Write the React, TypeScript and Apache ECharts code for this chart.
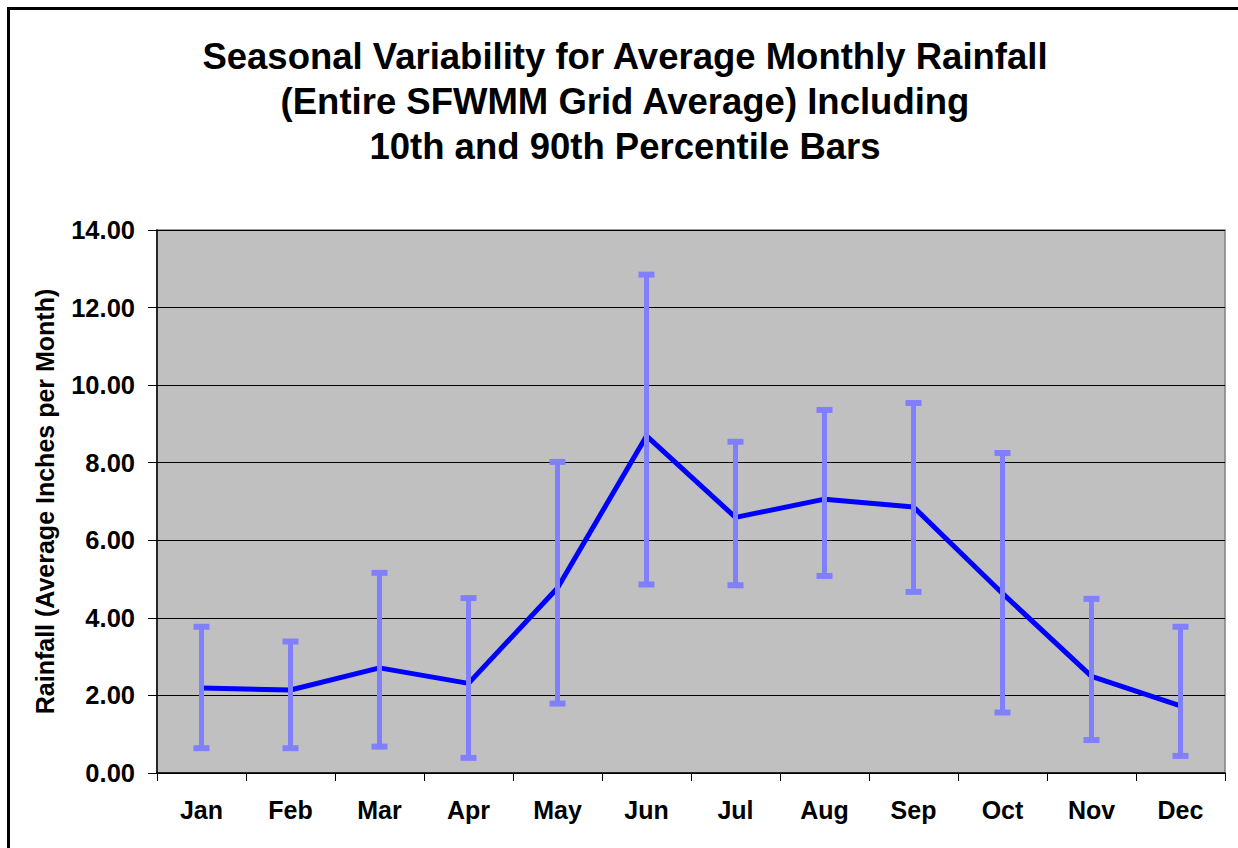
import React, { useEffect, useRef } from "react";
import * as echarts from "echarts";

const months = ["Jan", "Feb", "Mar", "Apr", "May", "Jun", "Jul", "Aug", "Sep", "Oct", "Nov", "Dec"];
const avgRain = [2.19, 2.14, 2.71, 2.31, 4.77, 8.69, 6.59, 7.06, 6.86, 4.63, 2.49, 1.73];
const p90 = [3.77, 3.39, 5.16, 4.51, 8.02, 12.85, 8.54, 9.36, 9.54, 8.25, 4.49, 3.77];
const p10 = [0.64, 0.64, 0.68, 0.39, 1.79, 4.86, 4.84, 5.08, 4.67, 1.56, 0.85, 0.44];
const yTicks = [0, 2, 4, 6, 8, 10, 12, 14];

const titleText =
  "Seasonal Variability for Average Monthly Rainfall\n(Entire SFWMM Grid Average) Including\n10th and 90th Percentile Bars";

export default function App() {
  const ref = useRef<HTMLDivElement>(null);
  useEffect(() => {
    if (!ref.current) return;
    const chart = echarts.init(ref.current, null, { renderer: "svg" });
    const font = "'Liberation Sans', Arial, sans-serif";
    const barColor = "#8080ff";
    chart.setOption({
      animation: false,
      backgroundColor: "#ffffff",
      textStyle: { fontFamily: font },
      graphic: [
        {
          type: "rect",
          shape: { x: 8.5, y: 8.5, width: 1300, height: 900 },
          style: { fill: "none", stroke: "#000", lineWidth: 3 },
          z: 100,
        },
        {
          type: "text",
          x: 625,
          y: 34,
          style: {
            text: titleText,
            fontFamily: font,
            fontSize: 36.5,
            fontWeight: "bold",
            fill: "#000",
            textAlign: "center",
            textVerticalAlign: "top",
            lineHeight: 45,
          },
        },
      ],
      grid: {
        left: 157,
        top: 230,
        right: 13,
        bottom: 75,
        show: true,
        backgroundColor: "#c0c0c0",
        borderColor: "#808080",
        borderWidth: 1.5,
      },
      xAxis: {
        type: "category",
        data: months,
        boundaryGap: true,
        axisLine: { lineStyle: { color: "#000", width: 1.5 } },
        axisTick: { show: true, length: 8, lineStyle: { color: "#000", width: 1 } },
        axisLabel: {
          color: "#000",
          fontSize: 25,
          fontWeight: "bold",
          fontFamily: font,
          margin: 24,
        },
        splitLine: { show: false },
      },
      yAxis: {
        type: "value",
        min: yTicks[0],
        max: yTicks[yTicks.length - 1],
        interval: 2,
        name: "Rainfall (Average Inches per Month)",
        nameLocation: "middle",
        nameRotate: 90,
        nameGap: 100,
        nameTextStyle: { color: "#000", fontSize: 25, fontWeight: "bold", fontFamily: font },
        axisLine: { show: true, lineStyle: { color: "#000", width: 1.5 } },
        axisTick: { show: true, length: 9, lineStyle: { color: "#000", width: 1 } },
        axisLabel: {
          color: "#000",
          fontSize: 25.5,
          fontWeight: "bold",
          fontFamily: font,
          margin: 22,
          formatter: (v: number) => v.toFixed(2),
        },
        splitLine: { show: true, lineStyle: { color: "#000", width: 1 } },
      },
      series: [
        {
          type: "line",
          data: avgRain,
          showSymbol: false,
          symbol: "none",
          lineStyle: { color: "#0000ff", width: 5 },
          z: 3,
        },
        {
          type: "custom",
          z: 5,
          data: months.map((_, i) => [i, p10[i], p90[i]]),
          encode: { x: 0, y: [1, 2] },
          renderItem: (params: any, api: any) => {
            const i = api.value(0);
            const lo = api.coord([i, api.value(1)]);
            const hi = api.coord([i, api.value(2)]);
            const half = 8;
            const style = { stroke: barColor, lineWidth: 5 };
            const capStyle = { stroke: barColor, lineWidth: 6 };
            return {
              type: "group",
              children: [
                { type: "line", shape: { x1: lo[0], y1: lo[1], x2: hi[0], y2: hi[1] }, style },
                { type: "line", shape: { x1: hi[0] - half, y1: hi[1], x2: hi[0] + half, y2: hi[1] }, style: capStyle },
                { type: "line", shape: { x1: lo[0] - half, y1: lo[1], x2: lo[0] + half, y2: lo[1] }, style: capStyle },
              ],
            };
          },
        },
      ],
    });
    return () => chart.dispose();
  }, []);
  return (
    <div
      ref={ref}
      style={{ position: "absolute", left: 0, top: 0, width: 1238, height: 848 }}
    />
  );
}
